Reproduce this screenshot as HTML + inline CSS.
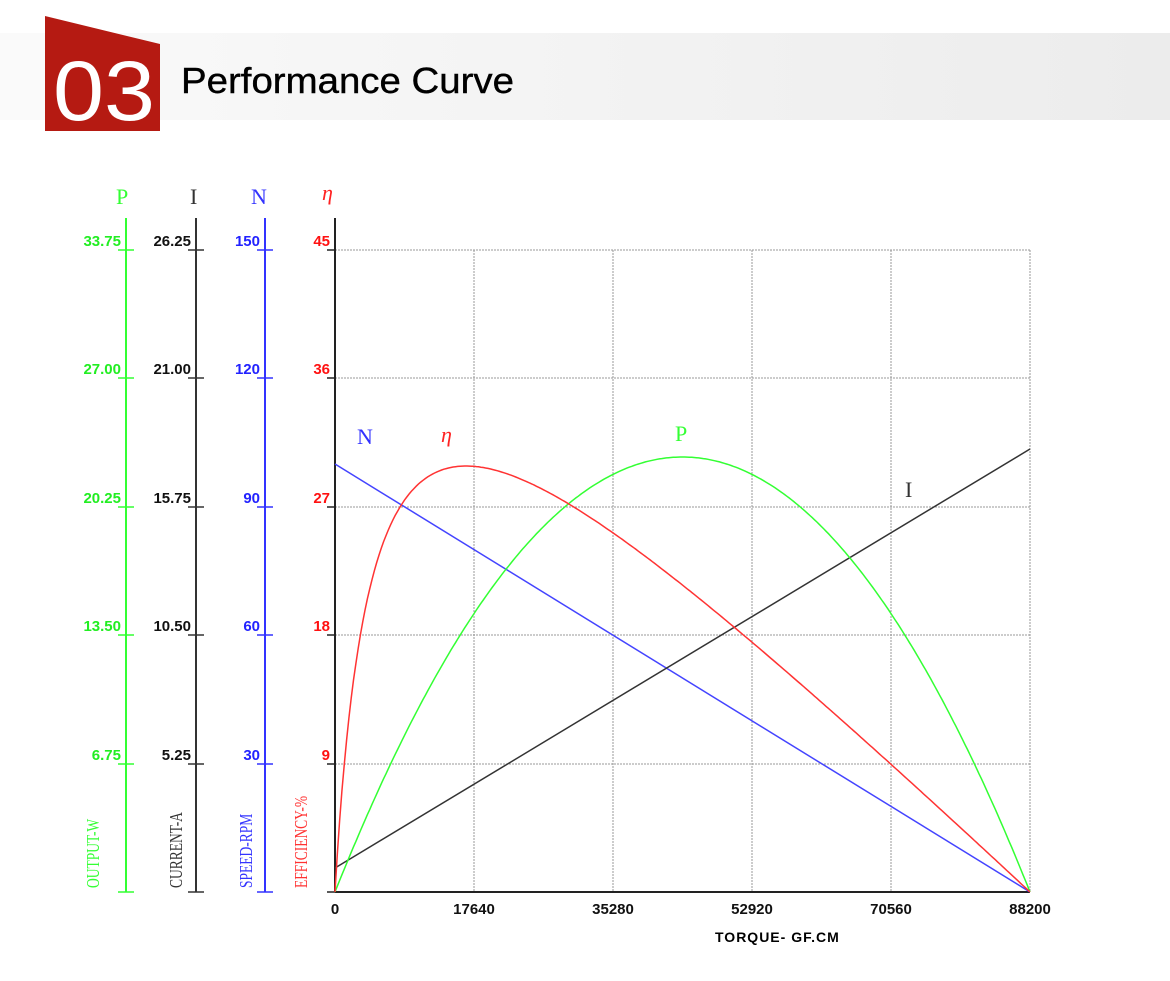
<!DOCTYPE html>
<html><head><meta charset="utf-8"><style>
body{margin:0;background:#fff;width:1170px;height:981px;overflow:hidden}
svg{display:block}
</style></head><body>
<svg width="1170" height="981" xmlns="http://www.w3.org/2000/svg">
<defs><linearGradient id="g" x1="0" x2="1"><stop offset="0" stop-color="#fafafa"/><stop offset="1" stop-color="#ececec"/></linearGradient></defs>
<rect x="0" y="33" width="1170" height="87" fill="url(#g)"/>
<polygon points="45,16 160,44 160,131 45,131" fill="#b51a12"/>
<text x="53" y="120" font-family="Liberation Sans, sans-serif" font-size="84" fill="#fff" textLength="102" lengthAdjust="spacingAndGlyphs">03</text>
<text x="181" y="93" font-family="Liberation Sans, sans-serif" font-size="36" fill="#000" stroke="#000" stroke-width="0.4" textLength="333" lengthAdjust="spacingAndGlyphs">Performance Curve</text>
<g id="grid" stroke="#999" stroke-dasharray="2,1" stroke-width="1"></g>
<g id="axes"></g>
<g id="curves" fill="none" stroke-width="1.5"></g>
<g font-family="Liberation Serif, serif" font-size="22">
<text x="116" y="204" fill="#3f3">P</text>
<text x="190" y="204" fill="#333">I</text>
<text x="251" y="204" fill="#33f">N</text>
<text x="322" y="200" fill="#f22" font-style="italic">η</text>
<text x="357" y="444" fill="#33f">N</text>
<text x="441" y="442" fill="#f22" font-style="italic">η</text>
<text x="675" y="441" fill="#3f3">P</text>
<text x="905" y="497" fill="#333">I</text>
</g>
<g font-family="Liberation Serif, serif" font-size="18">
<text transform="translate(99,888) rotate(-90) scale(0.75,1)" fill="#3f3">OUTPUT-W</text>
<text transform="translate(182,888) rotate(-90) scale(0.75,1)" fill="#333">CURRENT-A</text>
<text transform="translate(252,888) rotate(-90) scale(0.75,1)" fill="#33f">SPEED-RPM</text>
<text transform="translate(307,888) rotate(-90) scale(0.75,1)" fill="#f33">EFFICIENCY-%</text>
</g>
<g id="labels" font-family="Liberation Sans, sans-serif" font-size="15" font-weight="bold"></g>
<text x="715" y="942" font-family="Liberation Sans, sans-serif" font-size="14" font-weight="bold" letter-spacing="1">TORQUE- GF.CM</text>
</svg>
<script>
var NS="http://www.w3.org/2000/svg";
function el(p,t,a,txt){var e=document.createElementNS(NS,t);for(var k in a)e.setAttribute(k,a[k]);if(txt!=null)e.textContent=txt;document.getElementById(p).appendChild(e);}
var ys=[892,764,635,507,378,250];
ys.forEach(function(y,i){if(i>0)el("grid","line",{x1:335,x2:1030,y1:y,y2:y});});
[474,613,752,891,1030].forEach(function(x){el("grid","line",{x1:x,x2:x,y1:250,y2:892});});
el("axes","line",{x1:335,x2:1030,y1:892,y2:892,stroke:"#222","stroke-width":2});
var ax=[[126,"#3f3",["","6.75","13.50","20.25","27.00","33.75"]],[196,"#333",["","5.25","10.50","15.75","21.00","26.25"]],[265,"#33f",["","30","60","90","120","150"]],[335,"#222",["","9","18","27","36","45"]]];
var lc=["#2e2","#111","#22f","#f11"];
ax.forEach(function(a,j){var x=a[0];el("axes","line",{x1:x,x2:x,y1:218,y2:892,stroke:a[1],"stroke-width":2});
ys.forEach(function(y,i){el("axes","line",{x1:x-8,x2:(j==3?x:x+8),y1:y,y2:y,stroke:a[1],"stroke-width":1.5});
if(a[2][i])el("labels","text",{x:x-5,y:y-4,"text-anchor":"end",fill:lc[j]},a[2][i]);});});
["0","17640","35280","52920","70560","88200"].forEach(function(s,i){el("labels","text",{x:335+i*139,y:914,"text-anchor":"middle",fill:"#111"},s);});
el("curves","line",{x1:335,y1:464,x2:1030,y2:892,stroke:"#44f"});
el("curves","line",{x1:335,y1:868,x2:1030,y2:449,stroke:"#333"});
var p="",e="",i0=0.054,pk=0,pts=[];
for(var k=0;k<=300;k++){var t=k/300;var x=335+695*t;p+=(k?"L":"M")+x.toFixed(1)+","+(892-4*t*(1-t)*435).toFixed(1);
var v=t*(1-t)/(i0+(1-i0)*t);pts.push([x,v]);if(v>pk)pk=v;}
pts.forEach(function(q,k){e+=(k?"L":"M")+q[0].toFixed(1)+","+(892-q[1]/pk*426).toFixed(1);});
el("curves","path",{d:p,stroke:"#3f3"});
el("curves","path",{d:e,stroke:"#f33"});
</script>
</body></html>
